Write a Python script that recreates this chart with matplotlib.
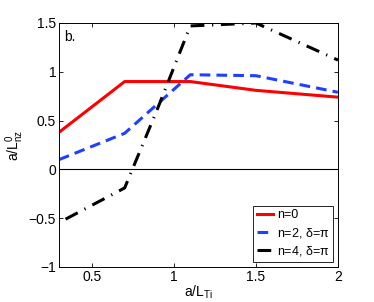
import matplotlib
matplotlib.use('Agg')
import matplotlib.pyplot as plt

plt.rcParams['font.family'] = ['Liberation Sans', 'DejaVu Sans']
plt.rcParams['mathtext.fontset'] = 'custom'
plt.rcParams['mathtext.rm'] = 'Liberation Sans'
plt.rcParams['mathtext.it'] = 'Liberation Sans'

# a/L_Ti values and a/L_nz^0 for each case
x_n0 = [0.3, 0.7, 1.1, 1.5, 2.0]
y_n0 = [0.38, 0.90, 0.90, 0.81, 0.74]

x_n2 = [0.3, 0.7, 0.9, 1.1, 1.5, 2.0]
y_n2 = [0.10, 0.37, 0.67, 0.97, 0.96, 0.79]

x_n4 = [0.34, 0.7, 0.9, 1.1, 1.5, 2.0]
y_n4 = [-0.51, -0.19, 0.62, 1.47, 1.50, 1.12]

labels = ['n=0', 'n=2, $\\delta$=$\\pi$', 'n=4, $\\delta$=$\\pi$']

fig = plt.figure(figsize=(3.74, 3.02), dpi=100)
ax = fig.add_axes([59 / 374, 1 - 267 / 302, 279 / 374, 244 / 302])

ax.axhline(0, color='k', lw=0.8)
ax.plot(x_n0, y_n0, color='red', lw=2.2, label=labels[0])
ax.plot(x_n2, y_n2, color='#2040ff', lw=2.2, ls=(0, (3.5, 2)), label=labels[1])
ax.plot(x_n4, y_n4, color='k', lw=2.2, ls=(0, (4.5, 2.5, 0.4, 2.5)), label=labels[2])

ax.set_xlim(0.3, 2)
ax.set_ylim(-1, 1.5)
ax.set_xticks([0.5, 1, 1.5, 2])
ax.set_xticklabels(['0.5', '1', '1.5', '2'])
ax.set_yticks([-1, -0.5, 0, 0.5, 1, 1.5])
ax.set_yticklabels(['\u22121', '\u22120.5', '0', '0.5', '1', '1.5'])
ax.tick_params(direction='in', length=3, width=0.6, labelsize=10, top=True, right=True, pad=2)
for s in ax.spines.values():
    s.set_linewidth(0.7)

ax.set_xlabel('a/L$_{\\rm Ti}$', fontsize=10, labelpad=0)
ax.set_ylabel('a/L$_{\\rm nz}^{\\rm 0}$', fontsize=10, labelpad=2)
ax.text(0.02, 0.97, 'b.', transform=ax.transAxes, fontsize=10, va='top', ha='left')

leg = ax.legend(loc='lower right', fontsize=9, handlelength=1.3, handletextpad=0.3,
                borderpad=0.3, labelspacing=0.35, fancybox=False, framealpha=1,
                borderaxespad=0.4)
leg.get_frame().set_edgecolor('k')
leg.get_frame().set_linewidth(0.6)

fig.savefig('out.png', dpi=100)
